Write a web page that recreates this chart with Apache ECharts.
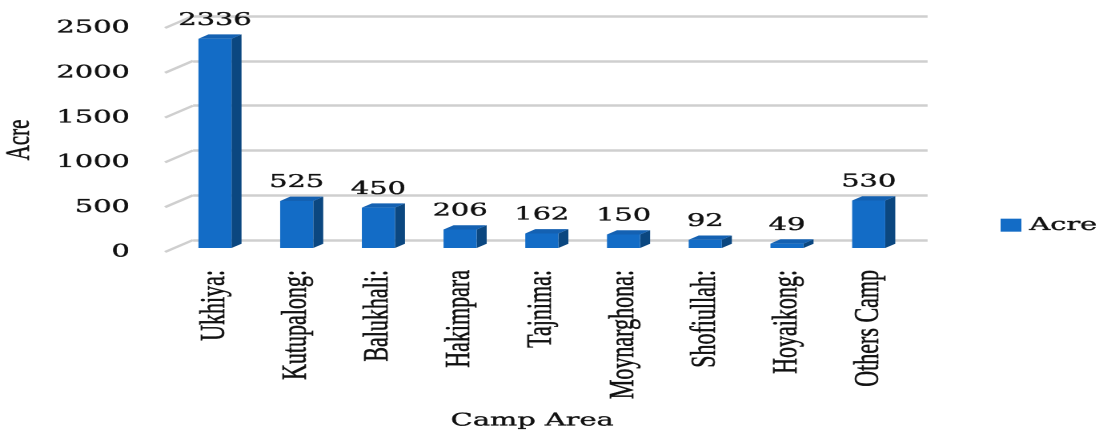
<!DOCTYPE html>
<html>
<head>
<meta charset="utf-8">
<script src="https://cdn.jsdelivr.net/npm/echarts@6/dist/echarts.min.js"></script>
<style>
html,body{margin:0;padding:0;background:#fff;overflow:hidden;}
#wrap{width:1103px;height:435px;overflow:hidden;}
#chart{width:689px;height:435px;transform:scaleX(1.6009);transform-origin:0 0;}
</style>
</head>
<body>
<div id="wrap"><div id="chart"></div></div>
<script>
const categories = ['Ukhiya:', 'Kutupalong:', 'Balukhali:', 'Hakimpara', 'Tajnima:', 'Moynarghona:', 'Shofiullah:', 'Hoyaikong:', 'Others Camp'];
const acreValues = [2336, 525, 450, 206, 162, 150, 92, 49, 530];
const yTicks = [0, 500, 1000, 1500, 2000, 2500];
const seriesName = 'Acre';
const xAxisTitle = 'Camp Area';
const yAxisTitle = 'Acre';

const NUM_FONT = 'DejaVu Serif';
const LBL_FONT = 'Liberation Serif';
const FRONT = '#136cc6';
const SIDE = '#0b4780';
const TOP = '#1461b2';
const GRID = '#cfcfcf';
const TXT = '#111111';
const BOLDEN = {textBorderColor: TXT, textBorderWidth: 0.35};
const DX = 6.25, DY = -4.3;

const chart = echarts.init(document.getElementById('chart'), null, {renderer: 'canvas', devicePixelRatio: 2});

const option = {
  animation: false,
  backgroundColor: '#ffffff',
  grid: [
    {left: 108.75, top: 24, width: 459.4, height: 224, outerBoundsMode: 'none'},
    {left: 120.6, top: 16, width: 458.8, height: 224, outerBoundsMode: 'none'},
    {left: 103.1, top: 28, width: 10, height: 224, outerBoundsMode: 'none'}
  ],
  legend: {
    data: [seriesName],
    left: 625, top: 216, padding: 0,
    icon: 'rect', itemWidth: 13, itemHeight: 13,
    textStyle: Object.assign({fontFamily: NUM_FONT, fontSize: 18, color: TXT}, BOLDEN)
  },
  xAxis: [
    {
      type: 'category', gridIndex: 0, data: categories,
      axisLine: {show: false}, axisTick: {show: false},
      axisLabel: Object.assign({interval: 0, rotate: 90, margin: 22, fontFamily: LBL_FONT, fontSize: 22, color: TXT}, BOLDEN),
      name: xAxisTitle, nameLocation: 'middle', nameGap: 164,
      nameTextStyle: Object.assign({fontFamily: NUM_FONT, fontSize: 18, color: TXT, padding: [0, 12, 0, 0]}, BOLDEN)
    },
    {type: 'category', gridIndex: 1, data: categories, show: false},
    {type: 'category', gridIndex: 2, data: ['w'], show: false}
  ],
  yAxis: [
    {type: 'value', gridIndex: 0, min: 0, max: 2500, interval: 500, show: false},
    {
      type: 'value', gridIndex: 1, min: 0, max: 2500, interval: 500,
      axisLine: {show: false}, axisTick: {show: false}, axisLabel: {show: false},
      splitLine: {show: true, lineStyle: {color: GRID, width: 2.5}}
    },
    {
      type: 'value', gridIndex: 2, min: 0, max: 2500, interval: 500,
      axisLine: {show: false}, axisTick: {show: false}, splitLine: {show: false},
      axisLabel: Object.assign({margin: 22, fontFamily: NUM_FONT, fontSize: 18, color: TXT, formatter: v => String(v)}, BOLDEN),
      name: yAxisTitle, nameLocation: 'middle', nameGap: 80, nameRotate: 90,
      nameTextStyle: Object.assign({fontFamily: LBL_FONT, fontSize: 21, color: TXT}, BOLDEN)
    }
  ],
  series: [
    {
      type: 'custom', name: 'wall', xAxisIndex: 2, yAxisIndex: 2, silent: true,
      data: yTicks.map(v => [0, v]),
      renderItem: function (params, api) {
        const p = api.coord([0, api.value(1)]);
        const x = params.coordSys.x;
        return {
          type: 'line',
          shape: {x1: x, y1: p[1], x2: x + 17.5, y2: p[1] - 12},
          style: {stroke: GRID, lineWidth: 2.2}
        };
      }
    },
    {
      type: 'custom', name: seriesName, xAxisIndex: 0, yAxisIndex: 0,
      itemStyle: {color: FRONT},
      data: acreValues.map((v, i) => [i, v]),
      renderItem: function (params, api) {
        const i = api.value(0), v = api.value(1);
        const top = api.coord([i, v]);
        const bot = api.coord([i, 0]);
        const w = api.size([1, 0])[0] * 0.405;
        const x0 = top[0] - w / 2, x1 = top[0] + w / 2;
        const yt = top[1], yb = bot[1];
        return {
          type: 'group',
          children: [
            {type: 'polygon', shape: {points: [[x1, yt], [x1 + DX, yt + DY], [x1 + DX, yb + DY], [x1, yb]]}, style: {fill: SIDE}},
            {type: 'polygon', shape: {points: [[x0, yt], [x0 + DX, yt + DY], [x1 + DX, yt + DY], [x1, yt]]}, style: {fill: TOP}},
            {type: 'rect', shape: {x: x0, y: yt, width: w, height: yb - yt}, style: {fill: FRONT}},
            {type: 'text', x: top[0], y: yt - 9.5,
              style: {text: String(v), align: 'center', verticalAlign: 'bottom', fontFamily: NUM_FONT, fontSize: 18, fill: TXT, stroke: TXT, lineWidth: 0.35}}
          ]
        };
      }
    }
  ]
};
chart.setOption(option);
</script>
</body>
</html>
